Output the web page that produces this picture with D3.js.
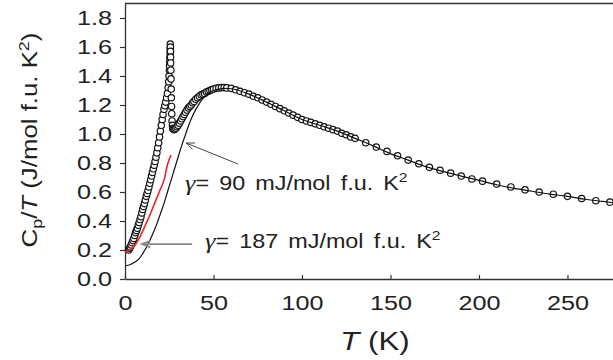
<!DOCTYPE html>
<html>
<head>
<meta charset="utf-8">
<script src="https://cdn.jsdelivr.net/npm/d3@7"></script>
<style>
  body { margin: 0; background: #fff; }
  svg { display: block; font-family: "Liberation Sans", Arial, sans-serif; }
</style>
</head>
<body>
<script>
// measured specific heat, Cp/T (J/mol f.u. K^2) vs T (K)
var dataT = [2, 2.5, 3, 3.5, 4, 4.5, 5, 5.5, 6, 6.5, 7, 7.5, 8, 8.5, 9, 9.5, 10, 10.5, 11, 11.5,
  12, 12.5, 13, 13.5, 14, 14.5, 15, 15.5, 16, 16.5, 17, 17.5, 18, 18.5, 19, 19.5, 20, 20.5, 21, 21.5,
  22, 22.5, 23, 23.5, 24,
  24.4, 24.7, 24.9, 25.1, 25.2, 25.3, 25.4, 25.5, 25.55, 25.6, 25.65, 25.7, 25.75, 25.8, 25.9, 26.0,
  26.1, 26.2, 26.3, 26.4, 26.6, 26.8, 27.0, 27.3, 27.7, 28.2,
  28.8, 29.4, 30, 30.7, 31.4, 32.1, 32.8, 33.5, 34.2, 35, 35.8, 36.6, 37.4, 38.2, 39, 40, 41, 42, 43,
  44, 45, 46, 47, 48, 49, 50, 51.5, 53, 54.5, 56, 57.5,
  60, 62.5, 65, 67.5, 70, 72.5, 75, 77.5, 80, 82.5, 85, 87.5, 90, 92.5, 95, 97.5, 100, 102.5, 105,
  107.5, 110, 112.5, 115, 117.5, 120, 122.5, 125, 127.5, 130,
  136, 142, 148, 154, 160, 166, 172, 178, 184, 190, 196, 202,
  210, 218, 226, 234, 242, 250, 258, 266, 274, 282];
var dataCpT = [0.20, 0.21, 0.22, 0.235, 0.25, 0.265, 0.28, 0.30, 0.32, 0.335, 0.35, 0.37, 0.39, 0.41,
  0.43, 0.455, 0.48, 0.50, 0.52, 0.545, 0.57, 0.59, 0.61, 0.635, 0.66, 0.685, 0.71, 0.735, 0.76, 0.785,
  0.81, 0.84, 0.87, 0.905, 0.94, 0.98, 1.02, 1.06, 1.10, 1.135, 1.17, 1.195, 1.22, 1.25, 1.28,
  1.32, 1.36, 1.40, 1.44, 1.47, 1.50, 1.53, 1.56, 1.59, 1.62, 1.60, 1.57, 1.53, 1.49, 1.44, 1.38,
  1.31, 1.25, 1.19, 1.14, 1.09, 1.06, 1.04, 1.035, 1.03, 1.035,
  1.04, 1.05, 1.06, 1.075, 1.09, 1.105, 1.12, 1.135, 1.15, 1.165, 1.18, 1.19, 1.20, 1.215, 1.225,
  1.24, 1.25, 1.26, 1.27, 1.275, 1.28, 1.29, 1.295, 1.30, 1.305, 1.31, 1.315, 1.318, 1.32, 1.32, 1.318,
  1.315, 1.305, 1.295, 1.285, 1.275, 1.26, 1.25, 1.235, 1.22, 1.205, 1.19, 1.175, 1.16, 1.145, 1.13,
  1.115, 1.10, 1.09, 1.08, 1.07, 1.06, 1.05, 1.04, 1.03, 1.02, 1.005, 0.995, 0.98, 0.97,
  0.94, 0.91, 0.88, 0.85, 0.82, 0.795, 0.77, 0.75, 0.73, 0.71, 0.69, 0.675,
  0.655, 0.635, 0.615, 0.60, 0.585, 0.57, 0.555, 0.54, 0.53, 0.52];

// fit with gamma = 90 mJ/mol f.u. K^2 (black)
var fit90T = [0, 2, 4, 6, 8, 10, 12, 14, 16, 18, 20, 22, 24, 26, 28, 30, 32, 34, 36, 38, 40, 42, 44,
  46, 48, 50, 53, 56, 60, 70, 80, 90, 100, 110, 120, 130, 140, 150, 160, 170, 180, 190, 200, 210, 220,
  230, 240, 250, 260, 270, 280];
var fit90CpT = [0.09, 0.095, 0.105, 0.12, 0.14, 0.175, 0.215, 0.265, 0.32, 0.38, 0.45, 0.52, 0.60,
  0.68, 0.76, 0.84, 0.92, 0.99, 1.06, 1.12, 1.17, 1.21, 1.245, 1.27, 1.29, 1.30, 1.31, 1.315, 1.312,
  1.275, 1.22, 1.16, 1.10, 1.06, 1.02, 0.97, 0.92, 0.865, 0.82, 0.775, 0.74, 0.71, 0.68, 0.65, 0.625,
  0.605, 0.585, 0.57, 0.55, 0.535, 0.52];

// fit with gamma = 187 mJ/mol f.u. K^2 (red, low T only)
var fit187T = [0, 2, 4, 6, 8, 10, 12, 14, 16, 18, 20, 22, 24, 26];
var fit187CpT = [0.19, 0.195, 0.21, 0.24, 0.28, 0.33, 0.385, 0.44, 0.50, 0.56, 0.62, 0.68, 0.79, 0.855];

var xTicks = [0, 50, 100, 150, 200, 250];
var yTicks = [0, 0.2, 0.4, 0.6, 0.8, 1.0, 1.2, 1.4, 1.6, 1.8];

// annotations, in data units: [T, Cp/T]
var labelGamma90 = { at: [33.9, 0.614], value: '90' };
var labelGamma187 = { at: [45.2, 0.214], value: '187' };
var arrow90 = { from: [63.8, 0.793], to: [34.5, 0.938] };
var arrow187 = { from: [37.9, 0.241], to: [9.6, 0.241] };

var W = 613, H = 360, stretch = 1.2;

var svg = d3.select('body').append('svg')
  .attr('width', W)
  .attr('height', H);

var x = d3.scaleLinear().domain([0, 276]).range([125, 613.5]);
var y = d3.scaleLinear().domain([0, 1.9]).range([279, 3.5]);

// x axis, ticks pointing in
svg.append('g')
  .attr('transform', 'translate(0,' + y(0) + ')')
  .call(d3.axisBottom(x).tickValues(xTicks).tickSizeInner(-4).tickSizeOuter(0))
  .call(function(g) {
    g.attr('font-size', 21).attr('font-family', null);
    g.select('.domain').attr('stroke', '#333').attr('stroke-width', 1.3);
    g.selectAll('.tick line').attr('stroke', '#333').attr('stroke-width', 1.2);
    g.selectAll('.tick text')
      .attr('y', 31).attr('dy', 0)
      .attr('fill', '#222')
      .attr('transform', 'scale(' + stretch + ',1)');
  });

// y axis, ticks pointing out
svg.append('g')
  .attr('transform', 'translate(' + x(0) + ',0)')
  .call(d3.axisLeft(y).tickValues(yTicks).tickFormat(d3.format('.1f')).tickSizeInner(5).tickSizeOuter(0))
  .call(function(g) {
    g.attr('font-size', 21).attr('font-family', null);
    g.select('.domain').attr('stroke', '#333').attr('stroke-width', 1.3);
    g.selectAll('.tick line').attr('stroke', '#333').attr('stroke-width', 1.2);
    g.selectAll('.tick text')
      .attr('x', -13 / stretch)
      .attr('fill', '#222')
      .attr('transform', 'scale(' + stretch + ',1)');
  });

// top frame line
svg.append('line')
  .attr('x1', x(0)).attr('x2', W)
  .attr('y1', y(1.9)).attr('y2', y(1.9))
  .attr('stroke', '#333')
  .attr('stroke-width', 1.3);

var line = d3.line()
  .x(function(d) { return x(d[0]); })
  .y(function(d) { return y(d[1]); })
  .curve(d3.curveMonotoneX);

var data = d3.zip(dataT, dataCpT);
var fit90 = d3.zip(fit90T, fit90CpT);
var fit187 = d3.zip(fit187T, fit187CpT);

// data circles
svg.append('g')
  .selectAll('circle')
  .data(data)
  .enter().append('circle')
    .attr('cx', function(d) { return x(d[0]); })
    .attr('cy', function(d) { return y(d[1]); })
    .attr('r', 3.2)
    .attr('fill', '#fff')
    .attr('stroke', '#111')
    .attr('stroke-width', 1.2);

svg.append('path')
  .datum(fit90)
  .attr('d', line)
  .attr('fill', 'none')
  .attr('stroke', '#111')
  .attr('stroke-width', 1.2);

svg.append('path')
  .datum(fit187)
  .attr('d', line)
  .attr('fill', 'none')
  .attr('stroke', '#e8262b')
  .attr('stroke-width', 1.6);

// arrows
function drawArrow(a, color, width) {
  var x1 = x(a.from[0]), y1 = y(a.from[1]), x2 = x(a.to[0]), y2 = y(a.to[1]);
  var ang = Math.atan2(y2 - y1, x2 - x1), len = 9, spread = 0.38;
  var g = svg.append('g').attr('stroke', color).attr('stroke-width', width).attr('fill', 'none');
  g.append('line').attr('x1', x1).attr('y1', y1).attr('x2', x2).attr('y2', y2);
  g.append('path').attr('d',
    'M' + (x2 - len * Math.cos(ang - spread)) + ',' + (y2 - len * Math.sin(ang - spread)) +
    'L' + x2 + ',' + y2 +
    'L' + (x2 - len * Math.cos(ang + spread)) + ',' + (y2 - len * Math.sin(ang + spread)));
}
drawArrow(arrow90, '#444', 1);
drawArrow(arrow187, '#888', 1.8);

// gamma labels
function gammaLabel(l) {
  var t = svg.append('text')
    .attr('transform', 'translate(' + x(l.at[0]) + ',' + y(l.at[1]) + ') scale(' + stretch + ',1)')
    .attr('font-size', 19.5)
    .attr('fill', '#222')
    .attr('word-spacing', 3);
  t.append('tspan')
    .attr('font-family', '"Liberation Serif", "Times New Roman", serif')
    .attr('font-style', 'italic')
    .attr('font-size', 22)
    .text('\u03b3');
  t.append('tspan').text('= ' + l.value + ' mJ/mol f.u. K');
  t.append('tspan').attr('font-size', 13).attr('dy', -8).text('2');
}
gammaLabel(labelGamma90);
gammaLabel(labelGamma187);

// axis titles
var xt = svg.append('text')
  .attr('transform', 'translate(375,350) scale(' + stretch + ',1)')
  .attr('text-anchor', 'middle')
  .attr('font-size', 26)
  .attr('fill', '#222');
xt.append('tspan').attr('font-style', 'italic').text('T');
xt.append('tspan').text(' (K)');

var yt = svg.append('text')
  .attr('transform', 'translate(37,140) rotate(-90) scale(' + stretch + ',1)')
  .attr('text-anchor', 'middle')
  .attr('font-size', 21.5)
  .attr('fill', '#222');
yt.append('tspan').text('C');
yt.append('tspan').attr('font-size', 15).attr('dy', 5).text('p');
yt.append('tspan').attr('dy', -5).text('/');
yt.append('tspan').attr('font-style', 'italic').text('T');
yt.append('tspan').text(' (J/mol f.u. K');
yt.append('tspan').attr('font-size', 15).attr('dy', -8).text('2');
yt.append('tspan').attr('dy', 8).text(')');
</script>
</body>
</html>
